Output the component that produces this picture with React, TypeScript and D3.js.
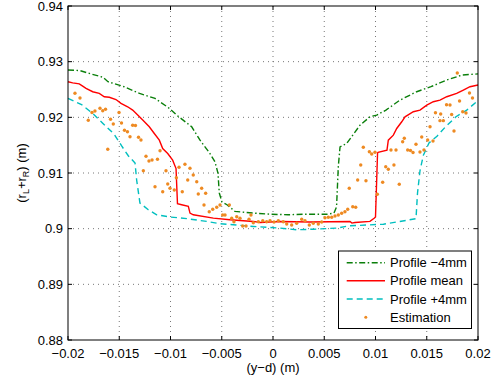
import React from "react";
import * as d3 from "d3";

const xTicks = [-0.02, -0.015, -0.01, -0.005, 0, 0.005, 0.01, 0.015, 0.02];
const xTickLabels = ["\u22120.02", "\u22120.015", "\u22120.01", "\u22120.005", "0", "0.005", "0.01", "0.015", "0.02"];
const yTicks = [0.88, 0.89, 0.9, 0.91, 0.92, 0.93, 0.94];
const yTickLabels = ["0.88", "0.89", "0.9", "0.91", "0.92", "0.93", "0.94"];

const meanX = [-0.02, -0.01954, -0.0189, -0.01857, -0.01824, -0.01759, -0.01695, -0.01646, -0.01597, -0.01532, -0.01483, -0.01418, -0.01369, -0.0132, -0.01271, -0.01207, -0.01158, -0.01109, -0.01076, -0.01027, -0.00979, -0.00946, -0.00932, -0.00891, -0.00826, -0.0081, -0.00778, -0.00582, -0.0042, -0.00192, -0.00127, 0.00068, 0.0036, 0.00751, 0.0077, 0.008, 0.00946, 0.0099, 0.01, 0.0102, 0.01025, 0.01112, 0.01125, 0.01174, 0.01207, 0.01256, 0.01288, 0.01369, 0.01434, 0.015, 0.01564, 0.01629, 0.01695, 0.01792, 0.01857, 0.01922, 0.02];
const meanY = [0.9264, 0.9262, 0.926, 0.9256, 0.9252, 0.9246, 0.9243, 0.9237, 0.9236, 0.9232, 0.9225, 0.9219, 0.9213, 0.9204, 0.9195, 0.9183, 0.9171, 0.9159, 0.9144, 0.9135, 0.9123, 0.9108, 0.9045, 0.9043, 0.904, 0.9028, 0.9025, 0.9019, 0.9016, 0.9013, 0.9011, 0.9013, 0.9012, 0.9013, 0.901, 0.9011, 0.9013, 0.9019, 0.9021, 0.9136, 0.9137, 0.9141, 0.9159, 0.9168, 0.918, 0.9192, 0.9201, 0.921, 0.9213, 0.9222, 0.9228, 0.9231, 0.9237, 0.9243, 0.9249, 0.9255, 0.9258];

const minusX = [-0.02, -0.01883, -0.01776, -0.01659, -0.0161, -0.01454, -0.01302, -0.01151, -0.0101, -0.0094, -0.00793, -0.00712, -0.00615, -0.00566, -0.00537, -0.00524, -0.00498, -0.00449, -0.00371, -0.00192, -0.00029, 0.00146, 0.00329, 0.00527, 0.00595, 0.0062, 0.00637, 0.00654, 0.00719, 0.00849, 0.00946, 0.01012, 0.01102, 0.01239, 0.01402, 0.01541, 0.01695, 0.01844, 0.02];
const minusY = [0.9285, 0.9284, 0.9278, 0.9272, 0.9264, 0.9255, 0.9243, 0.9234, 0.9216, 0.9204, 0.9183, 0.9159, 0.9135, 0.912, 0.91, 0.9064, 0.9048, 0.9043, 0.9031, 0.9028, 0.9026, 0.9025, 0.9026, 0.9026, 0.9028, 0.9039, 0.9111, 0.9147, 0.9153, 0.9186, 0.9201, 0.9204, 0.9213, 0.9231, 0.9246, 0.9255, 0.9267, 0.9276, 0.9278];

const plusX = [-0.02, -0.01868, -0.01753, -0.01659, -0.01551, -0.01478, -0.01412, -0.01346, -0.0133, -0.01298, -0.01217, -0.01135, -0.01005, -0.00842, -0.00647, -0.00517, -0.00387, -0.00192, 0.00068, 0.00231, 0.00393, 0.00622, 0.00735, 0.01077, 0.01305, 0.01395, 0.0141, 0.01434, 0.01467, 0.01522, 0.016, 0.01678, 0.01785, 0.0189, 0.01987, 0.02];
const plusY = [0.9234, 0.9223, 0.9206, 0.9189, 0.917, 0.9149, 0.9131, 0.9118, 0.9087, 0.9046, 0.9034, 0.9025, 0.9021, 0.9018, 0.9013, 0.9009, 0.9007, 0.9004, 0.9001, 0.8998, 0.8999, 0.9001, 0.9005, 0.9008, 0.9015, 0.9018, 0.9064, 0.9104, 0.9132, 0.9154, 0.9166, 0.9182, 0.9201, 0.9213, 0.9228, 0.9231];

const estX = [-0.01932, -0.01883, -0.01802, -0.01766, -0.01737, -0.01688, -0.01661, -0.01634, -0.01612, -0.01585, -0.01558, -0.01502, -0.01478, -0.01449, -0.0142, -0.01395, -0.01369, -0.01342, -0.01312, -0.01288, -0.01239, -0.0121, -0.0118, -0.01127, -0.01102, -0.01265, -0.01044, -0.01151, -0.01076, -0.01027, -0.01005, -0.00963, -0.00917, -0.00859, -0.0081, -0.00778, -0.00832, -0.00885, -0.00744, -0.00696, -0.00729, -0.00657, -0.00673, -0.00622, -0.00588, -0.00549, -0.00517, -0.00491, -0.00468, -0.00426, -0.00403, -0.00381, -0.00354, -0.00322, -0.00296, -0.00263, -0.00234, -0.00215, -0.00192, -0.00143, -0.001, -0.00062, -0.00029, 0.0001, 0.00052, 0.001, 0.00134, 0.00182, 0.00231, 0.0028, 0.00312, 0.00354, 0.00393, 0.00442, 0.00475, 0.00507, 0.0054, 0.00573, 0.00605, 0.00637, 0.0067, 0.00702, 0.00729, 0.00778, 0.00807, 0.00744, 0.00826, 0.00907, 0.00856, 0.00881, 0.0094, 0.00963, 0.00995, 0.01018, 0.0107, 0.011, 0.01125, 0.01151, 0.0118, 0.012, 0.01232, 0.01265, 0.01281, 0.01314, 0.01341, 0.01366, 0.01395, 0.01434, 0.01451, 0.01473, 0.01509, 0.01532, 0.01561, 0.01585, 0.01636, 0.01629, 0.01662, 0.01743, 0.01766, 0.01693, 0.01727, 0.0182, 0.01851, 0.01883, 0.01798, 0.01917, 0.01946, -0.00943];
const estY = [0.92432, 0.92347, 0.91947, 0.92087, 0.92114, 0.92162, 0.92119, 0.92144, 0.91426, 0.91965, 0.9188, 0.92087, 0.91898, 0.91767, 0.91742, 0.91652, 0.91859, 0.91853, 0.91641, 0.91593, 0.913, 0.91216, 0.91234, 0.91246, 0.91401, 0.91041, 0.91041, 0.90754, 0.90664, 0.90803, 0.90725, 0.90695, 0.91103, 0.91156, 0.91085, 0.90964, 0.90874, 0.90664, 0.90844, 0.90725, 0.90623, 0.90636, 0.90425, 0.90305, 0.90348, 0.90384, 0.90425, 0.90246, 0.90246, 0.90425, 0.90186, 0.90125, 0.90215, 0.90186, 0.90048, 0.90048, 0.90168, 0.90246, 0.90107, 0.90125, 0.90143, 0.90125, 0.90143, 0.9012, 0.90143, 0.90125, 0.90084, 0.90066, 0.90097, 0.90168, 0.90143, 0.90066, 0.90097, 0.90084, 0.9012, 0.90197, 0.90204, 0.90204, 0.90228, 0.90246, 0.90276, 0.90305, 0.90348, 0.90395, 0.90384, 0.90725, 0.90874, 0.90862, 0.91144, 0.91462, 0.91383, 0.91341, 0.91372, 0.90618, 0.90833, 0.91113, 0.91067, 0.91413, 0.91144, 0.91413, 0.90797, 0.91562, 0.91623, 0.91413, 0.91404, 0.91368, 0.91516, 0.91377, 0.91647, 0.91413, 0.91593, 0.91832, 0.91575, 0.92083, 0.9206, 0.9194, 0.9194, 0.92051, 0.91755, 0.92227, 0.92222, 0.92294, 0.92101, 0.92078, 0.92796, 0.92437, 0.92347, 0.90916];

const legendLabels = ["Profile \u22124mm", "Profile mean", "Profile +4mm", "Estimation"];

const FONT = "'Liberation Sans', Arial, Helvetica, sans-serif";
const GREEN = "#0a7f0a";
const RED = "#ff0000";
const CYAN = "#00bfbf";
const ORANGE = "#ee8a22";

export default function App() {
  const W = 501, H = 383;
  const L = 68, R = 478, T = 6, B = 340;
  const x = d3.scaleLinear().domain([-0.02, 0.02]).range([L, R]);
  const y = d3.scaleLinear().domain([0.88, 0.94]).range([B, T]);
  const line = d3.line<[number, number]>().x((d) => x(d[0])).y((d) => y(d[1]));
  const zip = (a: number[], b: number[]) => a.map((v, i) => [v, b[i]] as [number, number]);
  const tickLen = 4;

  const leg = { x0: 338.5, y0: 251, x1: 471.5, y1: 328.5 };
  const legRows = [262.7, 280.7, 299, 317.3];

  return (
    <svg width={W} height={H} style={{ position: "absolute", left: 0, top: 0, background: "#fff" }} fontFamily={FONT}>
      <rect x={0} y={0} width={W} height={H} fill="#fff" />
      {/* grid */}
      {xTicks.slice(1, -1).map((t, i) => (
        <line key={"gx" + i} x1={x(t)} x2={x(t)} y1={T} y2={B} stroke="#777" strokeWidth={1} strokeDasharray="1,4" />
      ))}
      {yTicks.slice(1, -1).map((t, i) => (
        <line key={"gy" + i} x1={L} x2={R} y1={y(t)} y2={y(t)} stroke="#777" strokeWidth={1} strokeDasharray="1,4" />
      ))}
      {/* series */}
      <path d={line(zip(minusX, minusY)) || ""} fill="none" stroke={GREEN} strokeWidth={1.4} strokeDasharray="6,2.5,1.5,2.5" />
      <path d={line(zip(plusX, plusY)) || ""} fill="none" stroke={CYAN} strokeWidth={1.4} strokeDasharray="6,4" />
      <path d={line(zip(meanX, meanY)) || ""} fill="none" stroke={RED} strokeWidth={1.4} />
      {estX.map((v, i) => (
        <circle key={"e" + i} cx={x(v)} cy={y(estY[i])} r={1.7} fill={ORANGE} />
      ))}
      {/* axes box */}
      <rect x={L} y={T} width={R - L} height={B - T} fill="none" stroke="#000" strokeWidth={1} />
      {xTicks.map((t, i) => (
        <g key={"tx" + i}>
          <line x1={x(t)} x2={x(t)} y1={B} y2={B - tickLen} stroke="#000" />
          <line x1={x(t)} x2={x(t)} y1={T} y2={T + tickLen} stroke="#000" />
          <text x={x(t)} y={357.5} textAnchor="middle" fontSize={13} fill="#000">{xTickLabels[i]}</text>
        </g>
      ))}
      {yTicks.map((t, i) => (
        <g key={"ty" + i}>
          <line x1={L} x2={L + tickLen} y1={y(t)} y2={y(t)} stroke="#000" />
          <line x1={R} x2={R - tickLen} y1={y(t)} y2={y(t)} stroke="#000" />
          <text x={63} y={y(t) + 4.6} textAnchor="end" fontSize={13} fill="#000">{yTickLabels[i]}</text>
        </g>
      ))}
      {/* axis labels */}
      <text x={273} y={372} textAnchor="middle" fontSize={13} fill="#000">(y{"\u2212"}d) (m)</text>
      <text transform="translate(26,173) rotate(-90)" textAnchor="middle" fontSize={13} fill="#000">
        (r<tspan fontSize={9} dy={3}>L</tspan><tspan dy={-3}>+r</tspan><tspan fontSize={9} dy={3}>R</tspan><tspan dy={-3}>) (m)</tspan>
      </text>
      {/* legend */}
      <rect x={leg.x0} y={leg.y0} width={leg.x1 - leg.x0} height={leg.y1 - leg.y0} fill="#fff" stroke="#000" strokeWidth={1} />
      <line x1={346.7} x2={385} y1={legRows[0]} y2={legRows[0]} stroke={GREEN} strokeWidth={1.4} strokeDasharray="6,2.5,1.5,2.5" />
      <line x1={346.7} x2={385} y1={legRows[1]} y2={legRows[1]} stroke={RED} strokeWidth={1.4} />
      <line x1={346.7} x2={385} y1={legRows[2]} y2={legRows[2]} stroke={CYAN} strokeWidth={1.4} strokeDasharray="6,4" />
      <circle cx={365.8} cy={legRows[3]} r={1.5} fill={ORANGE} />
      {legendLabels.map((s, i) => (
        <text key={"l" + i} x={390} y={legRows[i] + 4.6} fontSize={13} fill="#000">{s}</text>
      ))}
    </svg>
  );
}
